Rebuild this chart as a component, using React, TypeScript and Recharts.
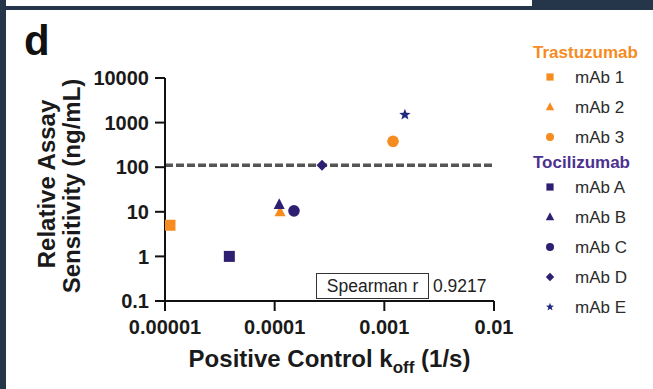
import React from 'react';
import { ScatterChart, Scatter, XAxis, YAxis, ReferenceLine } from 'recharts';

const mabNames = ['mAb 1', 'mAb 2', 'mAb 3', 'mAb A', 'mAb B', 'mAb C', 'mAb D', 'mAb E'];
const mabGroups = ['Trastuzumab', 'Trastuzumab', 'Trastuzumab', 'Tocilizumab', 'Tocilizumab', 'Tocilizumab', 'Tocilizumab', 'Tocilizumab'];
const koffValues = [1.11e-5, 1.12e-4, 1.2e-3, 3.86e-5, 1.1e-4, 1.5e-4, 2.7e-4, 1.54e-3];
const sensitivityValues = [5, 10, 380, 1, 14.5, 10.5, 110, 1500];
const groupNames = ['Trastuzumab', 'Tocilizumab'];

const xTicks = [0.00001, 0.0001, 0.001, 0.01];
const xTickLabels = ['0.00001', '0.0001', '0.001', '0.01'];
const yTicks = [0.1, 1, 10, 100, 1000, 10000];
const yTickLabels = ['0.1', '1', '10', '100', '1000', '10000'];
const threshold = 110;
const spearmanR = '0.9217';

const FONT = '"Liberation Sans", Arial, Helvetica, sans-serif';
const ORANGE = '#f68b1f';
const PURPLE = '#2f1f73';
const NAVY = '#1f2a80';
const BORDER = '#25364a';

const shapes = ['square', 'triangle', 'circle', 'square', 'triangle', 'circle', 'diamond', 'star'];
const groupColor: Record<string, string> = { Trastuzumab: ORANGE, Tocilizumab: PURPLE };
const titleColor: Record<string, string> = { Trastuzumab: ORANGE, Tocilizumab: '#4b3190' };
const markerColor = (i: number) => (shapes[i] === 'star' ? NAVY : groupColor[mabGroups[i]]);

const starPath = (cx: number, cy: number, r: number) => {
  const pts: string[] = [];
  for (let k = 0; k < 10; k++) {
    const rad = k % 2 === 0 ? r : r * 0.42;
    const a = -Math.PI / 2 + (k * Math.PI) / 5;
    pts.push(`${cx + rad * Math.cos(a)},${cy + rad * Math.sin(a)}`);
  }
  return `M${pts.join('L')}Z`;
};

const Marker = ({ cx, cy, shape, color, r }: any) => {
  switch (shape) {
    case 'square':
      return <rect x={cx - r} y={cy - r} width={2 * r} height={2 * r} fill={color} />;
    case 'triangle':
      return (
        <polygon
          points={`${cx},${cy - r * 1.15} ${cx + r},${cy + r * 0.8} ${cx - r},${cy + r * 0.8}`}
          fill={color}
        />
      );
    case 'circle':
      return <circle cx={cx} cy={cy} r={r} fill={color} />;
    case 'diamond':
      return <polygon points={`${cx},${cy - r} ${cx + r},${cy} ${cx},${cy + r} ${cx - r},${cy}`} fill={color} />;
    case 'star':
      return <path d={starPath(cx, cy, r)} fill={color} />;
    default:
      return null;
  }
};

const plotSize: Record<string, number> = { square: 5.5, triangle: 5.5, circle: 5.8, diamond: 5.5, star: 6 };
const legendSize: Record<string, number> = { square: 3.6, triangle: 4.2, circle: 4, diamond: 4.2, star: 4.2 };

const XTitle = (props: any) => {
  const vb = props.viewBox || {};
  const cx = vb.x + vb.width / 2;
  return (
    <text x={cx} y={367} textAnchor="middle" fontFamily={FONT} fontWeight="bold" fontSize={24} fill="#1a1a1a">
      Positive Control k
      <tspan fontSize={17} dy={6}>off</tspan>
      <tspan dy={-6}> (1/s)</tspan>
    </text>
  );
};

const YTitle = () => (
  <g fontFamily={FONT} fontWeight="bold" fontSize={24} fill="#1a1a1a">
    <text x={55} y={184} textAnchor="middle" transform="rotate(-90, 55, 184)">
      Relative Assay
    </text>
    <text x={80} y={186} textAnchor="middle" transform="rotate(-90, 80, 186)">
      Sensitivity (ng/mL)
    </text>
  </g>
);

const legendRows = () => {
  const rows: any[] = [];
  let y = 52;
  groupNames.forEach((g) => {
    rows.push({ kind: 'title', label: g, y });
    y += 25;
    mabNames.forEach((name, i) => {
      if (mabGroups[i] !== g) return;
      rows.push({ kind: 'item', label: name, i, y });
      y += 30;
    });
    y -= 5;
  });
  return rows;
};

export default function App() {
  const tickStyle = { fontFamily: FONT, fontWeight: 'bold', fontSize: 20, fill: '#1a1a1a' };
  return (
    <div style={{ position: 'absolute', left: 0, top: 0, width: 653, height: 389, background: '#fff', overflow: 'hidden' }}>
      <div style={{ position: 'absolute', left: 0, top: 0, width: 6, height: 389, background: BORDER }} />
      <div style={{ position: 'absolute', left: 0, top: 6, width: 653, height: 4, background: BORDER }} />
      <div style={{ position: 'absolute', left: 532, top: 0, width: 121, height: 10, background: BORDER }} />

      <div style={{ position: 'absolute', left: 0, top: 0 }}>
        <ScatterChart width={653} height={389} margin={{ top: 78, right: 159, bottom: 58, left: 105 }}>
          <XAxis
            type="number"
            dataKey="x"
            scale="log"
            domain={[0.00001, 0.01]}
            ticks={xTicks}
            allowDataOverflow
            tickFormatter={(v: number) => xTickLabels[xTicks.indexOf(v)] ?? String(v)}
            axisLine={{ stroke: '#111', strokeWidth: 2 }}
            tickLine={{ stroke: '#111', strokeWidth: 2 }}
            tickSize={10}
            tickMargin={9}
            tick={tickStyle}
            height={30}
            label={{ content: <XTitle /> }}
          />
          <YAxis
            type="number"
            dataKey="y"
            scale="log"
            domain={[0.1, 10000]}
            ticks={yTicks}
            allowDataOverflow
            tickFormatter={(v: number) => yTickLabels[yTicks.indexOf(v)] ?? String(v)}
            axisLine={{ stroke: '#111', strokeWidth: 2 }}
            tickLine={{ stroke: '#111', strokeWidth: 2 }}
            tickSize={10}
            tickMargin={6}
            tick={tickStyle}
            width={60}
          />
          <ReferenceLine y={threshold} stroke="#555" strokeWidth={3.5} strokeDasharray="8 3" />
          {mabNames.map((name, i) => (
            <Scatter
              key={name}
              name={name}
              data={[{ x: koffValues[i], y: sensitivityValues[i] }]}
              isAnimationActive={false}
              shape={(p: any) => (
                <Marker cx={p.cx} cy={p.cy} shape={shapes[i]} color={markerColor(i)} r={plotSize[shapes[i]]} />
              )}
            />
          ))}
        </ScatterChart>
      </div>

      <svg width={653} height={389} style={{ position: 'absolute', left: 0, top: 0, pointerEvents: 'none' }}>
        <text x={24} y={55} fontFamily={FONT} fontWeight="bold" fontSize={42} fill="#111">d</text>
        <YTitle />
        <rect x={316.5} y={273.5} width={112} height={25} fill="#fff" stroke="#333" strokeWidth={1} />
        <text x={372.5} y={286} textAnchor="middle" dominantBaseline="central" fontFamily={FONT} fontSize={17.5} fill="#222">
          Spearman r
        </text>
        <text x={433} y={286} dominantBaseline="central" fontFamily={FONT} fontSize={17.5} fill="#222">
          {spearmanR}
        </text>
        {legendRows().map((row, k) =>
          row.kind === 'title' ? (
            <text key={k} x={533} y={row.y} dominantBaseline="central" fontFamily={FONT} fontWeight="bold" fontSize={17} fill={titleColor[row.label]}>
              {row.label}
            </text>
          ) : (
            <g key={k}>
              <Marker cx={550} cy={row.y} shape={shapes[row.i]} color={markerColor(row.i)} r={legendSize[shapes[row.i]]} />
              <text x={575} y={row.y} dominantBaseline="central" fontFamily={FONT} fontSize={17} fill="#2b2b2b">
                {row.label}
              </text>
            </g>
          )
        )}
      </svg>
    </div>
  );
}
